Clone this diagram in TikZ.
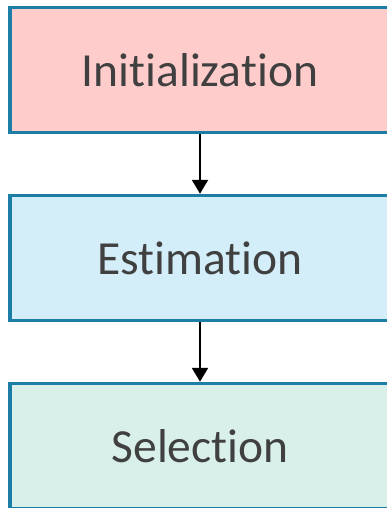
\documentclass[tikz,border=0pt]{standalone}
\usepackage{fontspec}
\setmainfont[Ligatures={NoCommon}]{Carlito}
\usetikzlibrary{arrows.meta}
\definecolor{edgeblue}{RGB}{28,126,166}
\definecolor{pinkfill}{RGB}{255,204,204}
\definecolor{bluefill}{RGB}{211,238,248}
\definecolor{greenfill}{RGB}{216,239,234}
\definecolor{textgray}{RGB}{64,64,64}
\tikzset{
  stage/.style={draw=edgeblue, line width=3.5pt, minimum width=380pt, minimum height=125pt,
    inner sep=0pt, text=textgray, font=\fontsize{47.5}{52}\selectfont},
  flow/.style={line width=2.2pt, -{Triangle[length=14pt,width=16pt]}}
}
\begin{document}
\begin{tikzpicture}[x=1pt,y=-1pt]
  \useasboundingbox (0,0) rectangle (386,508);
  \node[stage, fill=pinkfill]  (init) at (200,70)  {Initialization};
  \node[stage, fill=bluefill]  (est)  at (200,258) {Estimation};
  \node[stage, fill=greenfill] (sel)  at (200,446) {Selection};
  \draw[flow] (init.south) -- (est.north);
  \draw[flow] (est.south) -- (sel.north);
\end{tikzpicture}
\end{document}
